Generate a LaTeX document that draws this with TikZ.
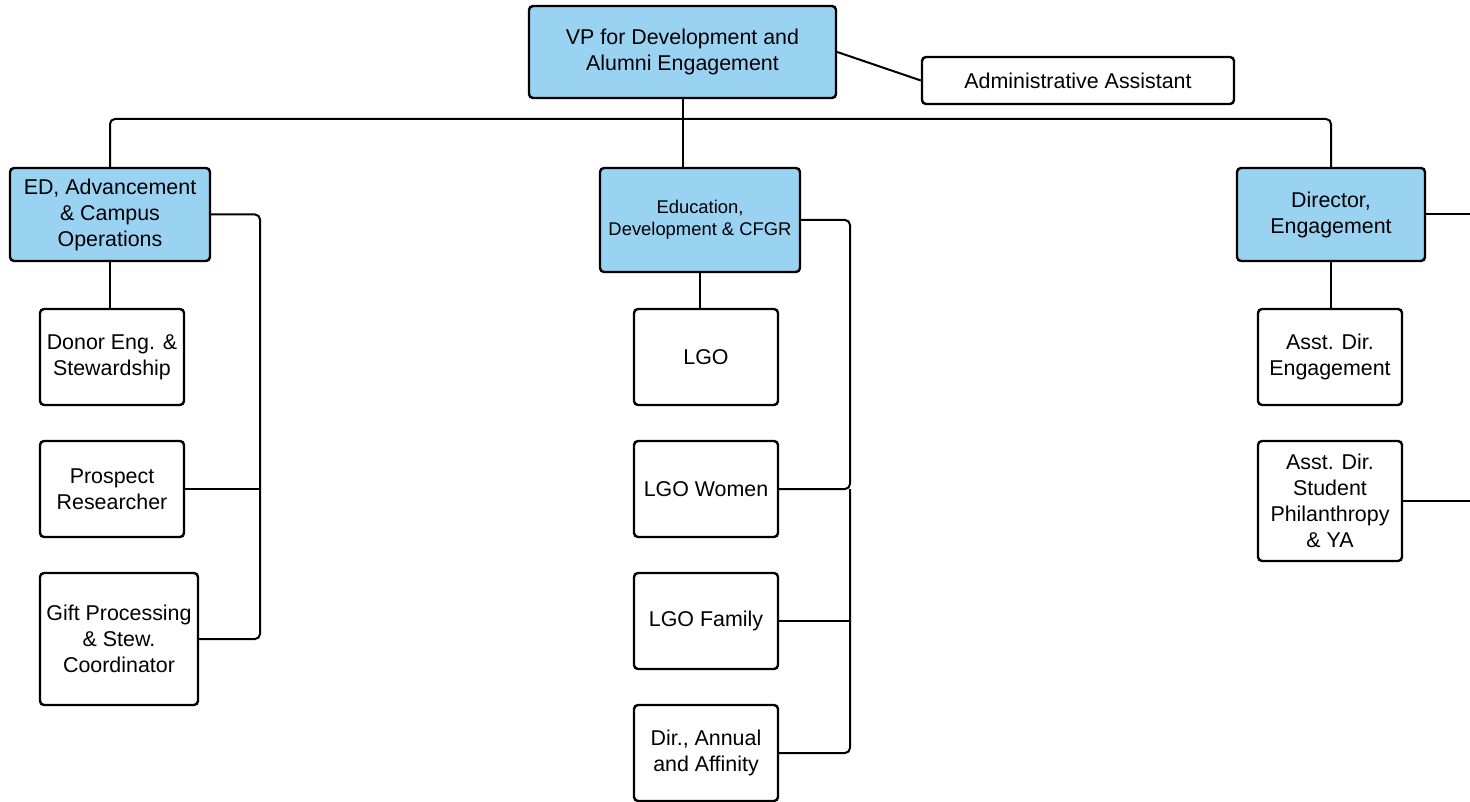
\documentclass[tikz,border=0pt]{standalone}
\usepackage{fontspec}
\setmainfont{Liberation Sans}
\usepackage{tikz}
\usetikzlibrary{positioning}
\definecolor{headblue}{RGB}{154,210,242}

\begin{document}
\begin{tikzpicture}[x=1pt,y=-1pt,
	box/.style={draw, line width=2.4pt, rounded corners=4pt, fill=white, align=center, inner sep=0pt,
		font=\fontsize{21.4}{26}\selectfont},
	headbox/.style={box, fill=headblue},
	link/.style={line width=2pt, rounded corners=5pt}]
	\useasboundingbox (0,0) rectangle (1470,802);
	% top level
	\node[headbox, minimum width=307pt, minimum height=92pt] (vp) at (682.5,52) {VP for Development and\\Alumni Engagement};
	\node[box, minimum width=312pt, minimum height=47pt] (admin) at (1078,80.5) {Administrative Assistant};
	\node[headbox, minimum width=200pt, minimum height=93pt] (ed) at (110,214.5) {ED, Advancement\\\& Campus\\Operations};
	\node[headbox, minimum width=200pt, minimum height=104pt, font=\fontsize{18.4}{22}\selectfont] (edc) at (700,220) {Education,\\Development \& CFGR};
	\node[headbox, minimum width=188pt, minimum height=93pt] (dir) at (1331,214.5) {Director,\\Engagement};
	% left column
	\node[box, minimum width=144pt, minimum height=96pt] (donor) at (112,357) {Donor Eng. \&\\Stewardship};
	\node[box, minimum width=144pt, minimum height=96pt] (prospect) at (112,489) {Prospect\\Researcher};
	\node[box, minimum width=158pt, minimum height=132pt] (gift) at (119,639) {Gift Processing\\\& Stew.\\Coordinator};
	% middle column
	\node[box, minimum width=144pt, minimum height=96pt] (lgo) at (706,357) {LGO};
	\node[box, minimum width=144pt, minimum height=96pt] (lgowomen) at (706,489) {LGO Women};
	\node[box, minimum width=144pt, minimum height=96pt] (lgofamily) at (706,621) {LGO Family};
	\node[box, minimum width=144pt, minimum height=96pt] (annual) at (706,753) {Dir., Annual\\and Affinity};
	% right column
	\node[box, minimum width=144pt, minimum height=96pt] (asstdir) at (1330,357) {Asst. Dir.\\Engagement};
	\node[box, minimum width=144pt, minimum height=120pt] (student) at (1330,501) {Asst. Dir.\\Student\\Philanthropy\\\& YA};

	\coordinate (bus) at (682,119);
	\coordinate (edrail) at (260,639);
	\coordinate (edcrail) at (850,489);
	\coordinate (offdir) at (1470,214.5);
	\coordinate (offstudent) at (1470,501);

	\draw[link] (vp.east) -- (admin.west);
	\draw[link] (vp.south) -- (vp.south |- edc.north);
	\draw[link] (ed.north) |- (bus) -| (dir.north);
	\draw[link] (ed.south) -- (ed.south |- donor.north);
	\draw[link] (ed.east) -| (edrail) -- (gift.east);
	\draw[link] (prospect.east) -- (prospect.east -| edrail);
	\draw[link] (edc.south) -- (edc.south |- lgo.north);
	\draw[link] (edc.east) -| (edcrail) -- (lgowomen.east);
	\draw[link] (edcrail) |- (annual.east);
	\draw[link] (lgofamily.east) -- (lgofamily.east -| edcrail);
	\draw[link] (dir.south) -- (dir.south |- asstdir.north);
	\draw[link] (dir.east) -- (offdir);
	\draw[link] (student.east) -- (offstudent);
\end{tikzpicture}
\end{document}
